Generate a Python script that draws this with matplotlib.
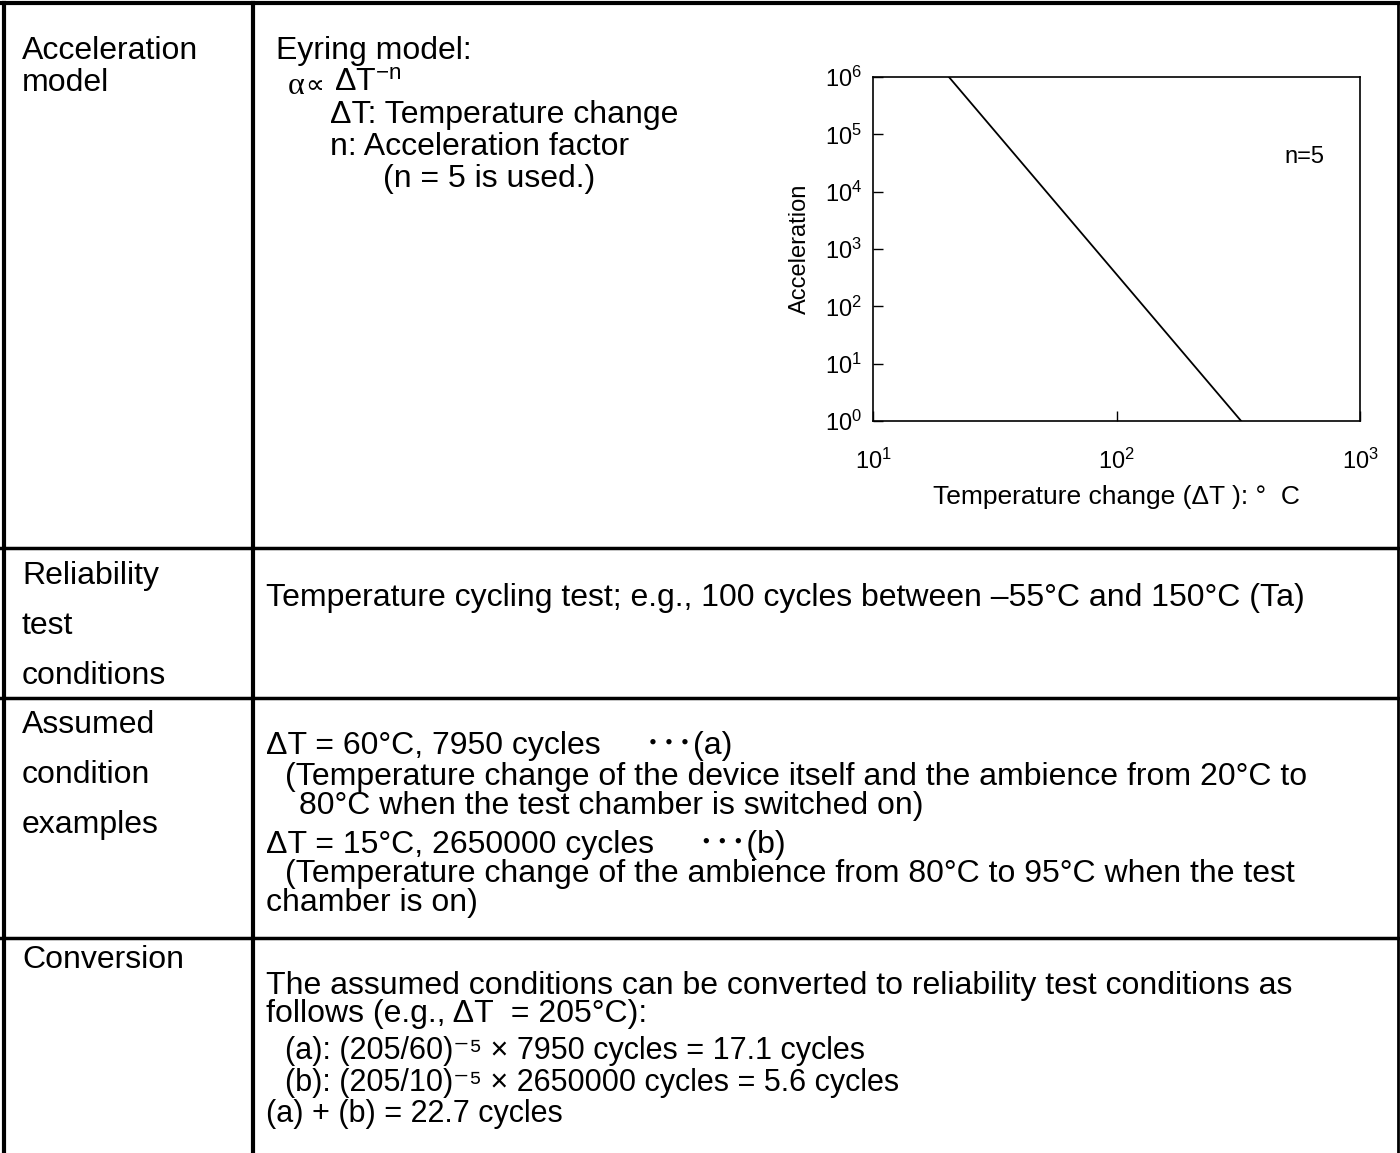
import matplotlib
matplotlib.use("Agg")
import matplotlib.pyplot as plt
import numpy as np

# data
dT = [20.5, 325]          # temperature change (deg C) at line ends
accel = [1e6, 1]          # acceleration at line ends
x_lim = [10, 1000]
y_lim = [1, 1e6]

W, H = 1400, 1153
FS = 23

plt.rcParams["font.family"] = ["Liberation Sans", "DejaVu Sans"]
plt.rcParams["mathtext.fontset"] = "custom"
plt.rcParams["mathtext.rm"] = "Liberation Sans"
plt.rcParams["mathtext.it"] = "Liberation Sans:italic"

fig = plt.figure(figsize=(W / 100, H / 100), dpi=100)


def fx(x):
    return x / W


def fy(y):
    return 1 - y / H


def txt(x, y, s, size=FS, **kw):
    fig.text(fx(x), fy(y), s, fontsize=size, va="center", ha="left", **kw)


def hline(y, x0=0, x1=W, lw=2.5):
    fig.add_artist(plt.Line2D([fx(x0), fx(x1)], [fy(y), fy(y)], color="black", lw=lw))


def vline(x, y0=0, y1=H, lw=2.5):
    fig.add_artist(plt.Line2D([fx(x), fx(x)], [fy(y0), fy(y1)], color="black", lw=lw))


# table grid
hline(3, lw=3)
hline(548)
hline(698)
hline(938)
vline(4, 3, H, lw=3)
vline(253, 3, H, lw=3)
vline(1398, 3, H, lw=2)

# row 1
txt(22, 51, "Acceleration")
txt(22, 83, "model")
txt(276, 51, "Eyring model:")
txt(288, 86, "α", size=23, family="Liberation Serif")
txt(305, 86, "∝", size=19, family="DejaVu Sans")
txt(334, 83, r"ΔT$^{\mathrm{-n}}$")
txt(330, 115, "ΔT: Temperature change")
txt(330, 147, "n: Acceleration factor")
txt(383, 179, "(n = 5 is used.)")

# chart
ax = fig.add_axes([fx(873), fy(421), fx(1360 - 873), (421 - 77) / H])
ax.plot(dT, accel, color="black", lw=1.3)
ax.set_xscale("log")
ax.set_yscale("log")
ax.set_xlim(x_lim)
ax.set_ylim(y_lim)
ax.minorticks_off()
ax.set_yticks([10 ** k for k in range(7)])
ax.set_xticks([10, 100, 1000])
ax.tick_params(direction="in", length=7, width=1, labelsize=17)
ax.tick_params(axis="x", pad=20)
ax.tick_params(axis="y", pad=8)
for s in ax.spines.values():
    s.set_linewidth(1.2)
ax.set_ylabel("Acceleration", fontsize=17, labelpad=10)
ax.set_xlabel("Temperature change (ΔT ): °  C", fontsize=19, labelpad=8)
ax.text(0.845, 0.75, "n=5", transform=ax.transAxes, fontsize=17)

# row 2
txt(22, 576, "Reliability")
txt(22, 626, "test")
txt(22, 676, "conditions")
txt(266, 598, "Temperature cycling test; e.g., 100 cycles between –55°C and 150°C (Ta)")

# row 3
txt(22, 725, "Assumed")
txt(22, 775, "condition")
txt(22, 825, "examples")
txt(266, 746, "ΔT = 60°C, 7950 cycles     ･･･(a)", family=["Liberation Sans", "Noto Sans CJK JP"])
txt(285, 777, "(Temperature change of the device itself and the ambience from 20°C to")
txt(299, 806, "80°C when the test chamber is switched on)")
txt(266, 845, "ΔT = 15°C, 2650000 cycles     ･･･(b)", family=["Liberation Sans", "Noto Sans CJK JP"])
txt(285, 874, "(Temperature change of the ambience from 80°C to 95°C when the test")
txt(266, 903, "chamber is on)")

# row 4
txt(22, 960, "Conversion")
txt(266, 986, "The assumed conditions can be converted to reliability test conditions as")
txt(266, 1014, "follows (e.g., ΔT  = 205°C):")
txt(285, 1051, "(a): (205/60)⁻⁵ × 7950 cycles = 17.1 cycles", size=22)
txt(285, 1083, "(b): (205/10)⁻⁵ × 2650000 cycles = 5.6 cycles", size=22)
txt(266, 1114, "(a) + (b) = 22.7 cycles", size=22)

fig.savefig("out.png", dpi=100)
